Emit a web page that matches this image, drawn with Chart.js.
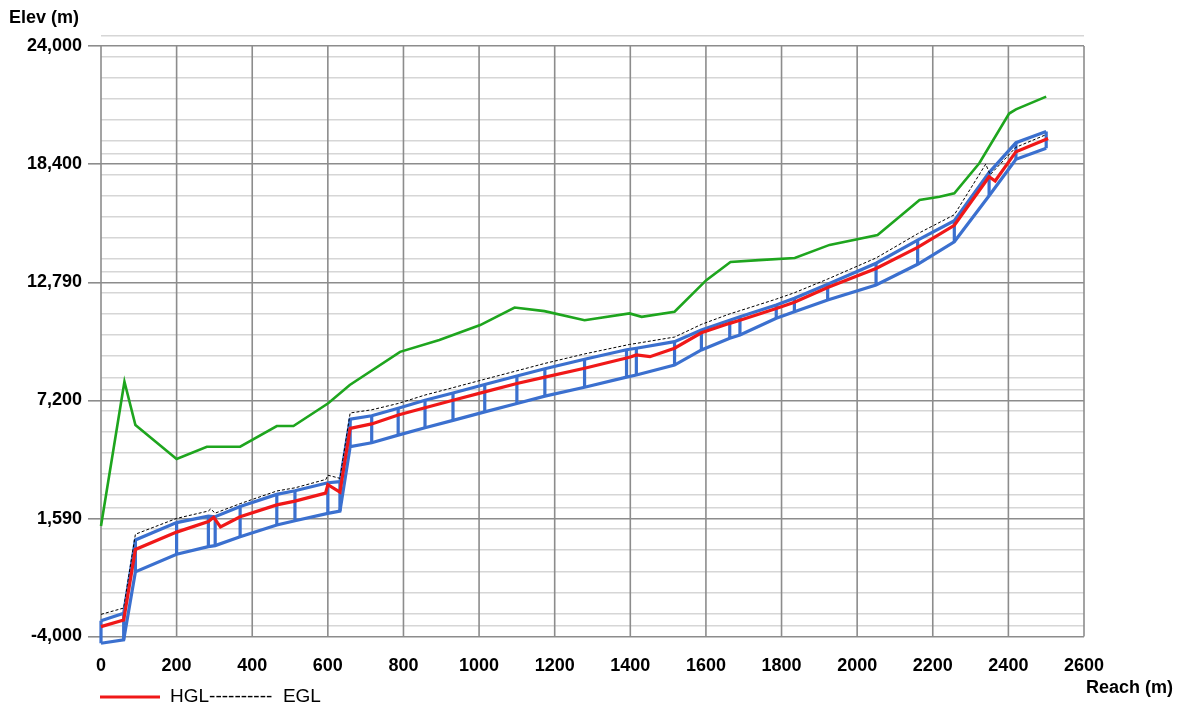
<!DOCTYPE html>
<html>
<head>
<meta charset="utf-8">
<title>Profile</title>
<script src="https://cdn.jsdelivr.net/npm/chart.js@4.4.0/dist/chart.umd.min.js"></script>
<style>
    html, body { margin: 0; padding: 0; background: #fff; }
    .wrap { position: relative; width: 1181px; height: 704px; }
</style>
</head>
<body>
<div class="wrap"><canvas class="chart-1"></canvas></div>
<script>
// pipe nodes: reach (m), crown and invert elevation (m)
const nodeReach = [0, 60, 91, 200, 284, 302, 368, 465, 513, 600, 632, 659, 716, 786, 857, 931, 1015, 1100, 1174, 1279, 1390, 1416, 1517, 1588, 1663, 1690, 1786, 1834, 1922, 2050, 2160, 2257, 2349, 2420, 2500];
const crownElev = [-3.25, -2.9, 0.58, 1.4, 1.71, 1.68, 2.16, 2.74, 2.91, 3.29, 3.34, 6.31, 6.47, 6.82, 7.2, 7.55, 7.95, 8.35, 8.7, 9.15, 9.6, 9.67, 9.98, 10.53, 11.0, 11.16, 11.72, 12.04, 12.7, 13.7, 14.8, 15.72, 18.0, 19.42, 19.95];
const invertElev = [-4.32, -4.16, -0.93, -0.1, 0.26, 0.31, 0.73, 1.29, 1.49, 1.84, 1.95, 5.0, 5.19, 5.55, 5.9, 6.25, 6.65, 7.05, 7.4, 7.82, 8.3, 8.4, 8.87, 9.59, 10.14, 10.3, 11.09, 11.4, 11.96, 12.67, 13.65, 14.72, 16.9, 18.63, 19.15];

// HGL (red)
const hglReach = [0, 60, 91, 200, 284, 298, 316, 368, 465, 513, 594, 600, 632, 659, 716, 786, 857, 931, 1015, 1100, 1174, 1279, 1398, 1416, 1452, 1517, 1588, 1663, 1690, 1786, 1834, 1922, 2050, 2160, 2257, 2349, 2365, 2420, 2505];
const hglElev = [-3.53, -3.22, 0.13, 0.95, 1.45, 1.65, 1.2, 1.68, 2.24, 2.42, 2.8, 3.2, 2.85, 5.87, 6.08, 6.5, 6.85, 7.2, 7.6, 8.0, 8.3, 8.72, 9.24, 9.35, 9.27, 9.67, 10.4, 10.85, 11.0, 11.55, 11.85, 12.55, 13.45, 14.45, 15.5, 17.8, 17.6, 18.99, 19.62];

// EGL (black dashed)
const eglReach = [0, 60, 91, 200, 284, 290, 302, 368, 465, 513, 595, 600, 632, 659, 716, 786, 857, 931, 1015, 1100, 1174, 1279, 1398, 1416, 1517, 1588, 1663, 1690, 1786, 1834, 1922, 2050, 2160, 2257, 2340, 2352, 2420, 2500];
const eglElev = [-2.95, -2.65, 0.85, 1.6, 1.95, 2.05, 1.85, 2.3, 2.9, 3.05, 3.45, 3.65, 3.5, 6.6, 6.75, 7.05, 7.45, 7.8, 8.2, 8.6, 8.95, 9.4, 9.85, 9.9, 10.2, 10.8, 11.3, 11.45, 12.0, 12.3, 12.95, 13.95, 15.1, 16.0, 18.4, 17.9, 19.2, 19.8];

// ground (green)
const groundReach = [0, 62, 91, 200, 280, 368, 465, 509, 601, 658, 791, 895, 1003, 1094, 1173, 1279, 1398, 1430, 1517, 1601, 1665, 1740, 1835, 1927, 2054, 2112, 2165, 2218, 2257, 2323, 2402, 2420, 2500];
const groundElev = [1.24, 8.08, 6.03, 4.42, 5.0, 5.0, 5.98, 5.98, 7.06, 7.93, 9.5, 10.06, 10.77, 11.6, 11.43, 11.0, 11.32, 11.16, 11.4, 12.9, 13.76, 13.85, 13.95, 14.57, 15.04, 15.9, 16.7, 16.85, 17.02, 18.44, 20.8, 21.0, 21.6];

const xTickValues = [0, 200, 400, 600, 800, 1000, 1200, 1400, 1600, 1800, 2000, 2200, 2400, 2600];
const yTickValues = [-4, 1.59, 7.2, 12.79, 18.4, 24];
const yTickLabels = ['-4,000', '1,590', '7,200', '12,790', '18,400', '24,000'];

const majorGrid = '#8c8c8c';
const minorGrid = '#d6d6d6';
const yMin = -4;
const yMax = 24.5;

function toPoints(xs, ys) {
    return xs.map((x, i) => ({ x: x, y: ys[i] }));
}

function isMajor(v) {
    return yTickValues.some(m => Math.abs(m - v) < 1e-6);
}

// the light lines sit half a metre either side of each major line, then every metre down
function buildYGrid() {
    const vals = [];
    yTickValues.forEach(m => {
        vals.push(m);
        [0.5, -0.5, -1.5, -2.5, -3.5, -4.5].forEach(o => {
            const v = +(m + o).toFixed(3);
            if (v >= yMin && v <= yMax) vals.push(v);
        });
    });
    return [...new Set(vals)].sort((a, b) => a - b);
}

function verticalPoints() {
    const pts = [];
    for (let i = 0; i < nodeReach.length; i++) {
        pts.push({ x: nodeReach[i], y: invertElev[i] });
        pts.push({ x: nodeReach[i], y: crownElev[i] });
        pts.push({ x: nodeReach[i], y: null });
    }
    return pts;
}

const blue = '#3b70cf';

const frame = {
    id: 'frame',
    beforeDatasetsDraw(chart) {
        const { ctx } = chart;
        const x = chart.scales.x, y = chart.scales.y;
        const top = y.getPixelForValue(yTickValues[yTickValues.length - 1]);
        const bottom = y.getPixelForValue(yTickValues[0]);
        ctx.save();
        ctx.strokeStyle = majorGrid;
        ctx.lineWidth = 1.6;
        xTickValues.forEach(v => {
            const px = x.getPixelForValue(v);
            ctx.beginPath();
            ctx.moveTo(px, top);
            ctx.lineTo(px, bottom);
            ctx.stroke();
        });
        ctx.restore();
    },
    afterDraw(chart) {
        const { ctx } = chart;
        ctx.save();
        ctx.fillStyle = '#000';
        ctx.font = 'bold 18px "Liberation Sans", Arial, sans-serif';
        ctx.textBaseline = 'middle';
        ctx.textAlign = 'left';
        ctx.fillText('Elev (m)', 9, 18);
        ctx.textAlign = 'right';
        ctx.fillText('Reach (m)', 1173, 688);

        // legend
        ctx.strokeStyle = '#f01818';
        ctx.lineWidth = 3;
        ctx.beginPath();
        ctx.moveTo(100, 697);
        ctx.lineTo(160, 697);
        ctx.stroke();
        ctx.textAlign = 'left';
        ctx.font = '19px "Liberation Sans", Arial, sans-serif';
        ctx.fillText('HGL----------  EGL', 170, 697);
        ctx.restore();
    }
};

const yGrid = buildYGrid();
const tickFont = { family: '"Liberation Sans", Arial, sans-serif', size: 18, weight: 'bold' };

new Chart(document.querySelector('.chart-1'), {
    type: 'line',
    data: {
        datasets: [
            {
                label: 'HGL',
                data: toPoints(hglReach, hglElev),
                borderColor: '#f01818',
                borderWidth: 3.2
            },
            {
                label: 'EGL',
                data: toPoints(eglReach, eglElev),
                borderColor: '#000',
                borderWidth: 1,
                borderDash: [3, 2]
            },
            {
                label: 'Crown',
                data: toPoints(nodeReach, crownElev),
                borderColor: blue,
                borderWidth: 3.2
            },
            {
                label: 'Invert',
                data: toPoints(nodeReach, invertElev),
                borderColor: blue,
                borderWidth: 3.2
            },
            {
                label: 'Nodes',
                data: verticalPoints(),
                borderColor: blue,
                borderWidth: 3.2,
                spanGaps: false
            },
            {
                label: 'Ground',
                data: toPoints(groundReach, groundElev),
                borderColor: '#1ea51e',
                borderWidth: 2.6
            }
        ]
    },
    options: {
        responsive: true,
        maintainAspectRatio: false,
        animation: false,
        devicePixelRatio: 1,
        layout: { padding: { top: 35.5, right: 97, bottom: 0, left: 0 } },
        elements: {
            point: { radius: 0, hoverRadius: 0 },
            line: { tension: 0, fill: false }
        },
        datasets: { line: { clip: false } },
        plugins: {
            legend: { display: false },
            tooltip: { enabled: false }
        },
        scales: {
            x: {
                type: 'linear',
                min: 0,
                max: 2600,
                afterBuildTicks: s => { s.ticks = xTickValues.map(v => ({ value: v })); },
                afterFit: s => { s.height = 67.5; },
                grid: { display: false },
                border: { display: false },
                ticks: {
                    autoSkip: false,
                    maxRotation: 0,
                    padding: 11,
                    color: '#000',
                    font: tickFont,
                    callback: v => String(v)
                }
            },
            y: {
                type: 'linear',
                min: yMin,
                max: yMax,
                afterBuildTicks: s => { s.ticks = yGrid.map(v => ({ value: v })); },
                afterFit: s => { s.width = 101; },
                border: { display: false },
                grid: {
                    color: c => isMajor(c.tick.value) ? majorGrid : minorGrid,
                    lineWidth: 1.6,
                    tickLength: 13,
                    tickColor: c => isMajor(c.tick.value) ? majorGrid : 'rgba(0,0,0,0)'
                },
                ticks: {
                    autoSkip: false,
                    padding: 6,
                    color: '#000',
                    font: tickFont,
                    callback: v => {
                        const i = yTickValues.findIndex(m => Math.abs(m - v) < 1e-6);
                        return i >= 0 ? yTickLabels[i] : '';
                    }
                }
            }
        }
    },
    plugins: [frame]
});
</script>
</body>
</html>
